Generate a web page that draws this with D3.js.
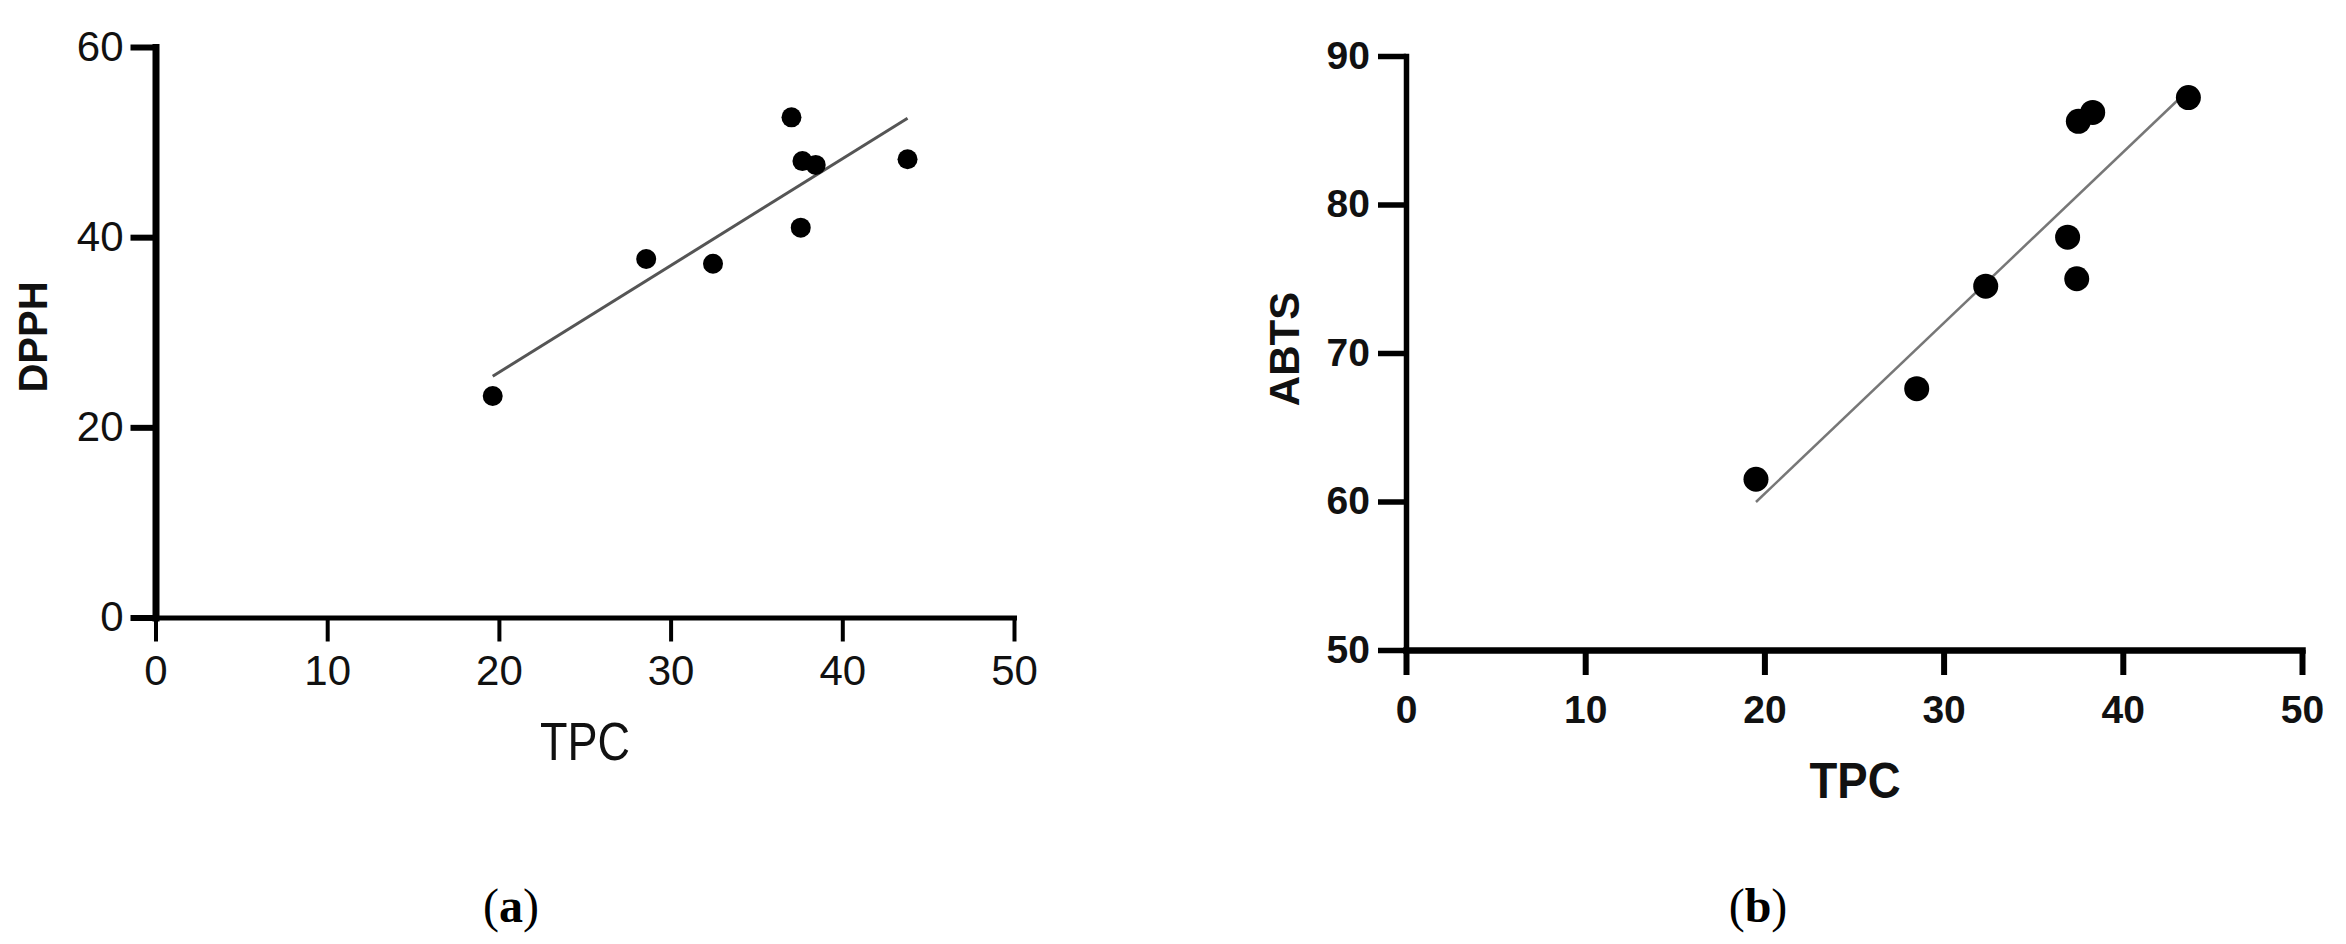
<!DOCTYPE html>
<html>
<head>
<meta charset="utf-8">
<script src="https://cdn.jsdelivr.net/npm/d3@7"></script>
<style>
  html, body { margin: 0; padding: 0; background: #fff; }
  svg { display: block; }
</style>
</head>
<body>
<svg id="chart" width="2346" height="944"></svg>
<script>
// ---- Data ----
const tpcA = [19.64, 28.58, 32.47, 37.04, 37.58, 37.68, 38.45, 43.8];
const dpph = [23.3, 37.7, 37.2, 52.6, 41.0, 48.0, 47.6, 48.2];

const tpcB = [19.53, 28.5, 32.35, 36.92, 37.43, 37.52, 38.32, 43.66];
const abts = [61.5, 67.6, 74.5, 77.8, 75.0, 85.6, 86.2, 87.2];

const xTicks = [0, 10, 20, 30, 40, 50];
const yTicksA = [0, 20, 40, 60];
const yTicksB = [50, 60, 70, 80, 90];

const svg = d3.select("#chart");

function linfit(xs, ys) {
  const mx = d3.mean(xs), my = d3.mean(ys);
  let sxy = 0, sxx = 0;
  xs.forEach((x, i) => { sxy += (x - mx) * (ys[i] - my); sxx += (x - mx) * (x - mx); });
  const b = sxy / sxx;
  return { a: my - b * mx, b };
}

function panel(opt) {
  const g = svg.append("g");
  const x = d3.scaleLinear().domain([0, 50]).range(opt.xr);
  const y = d3.scaleLinear().domain(opt.yd).range(opt.yr);

  // regression line
  const fit = linfit(opt.xs, opt.ys);
  const x0 = d3.min(opt.xs), x1 = d3.max(opt.xs);
  g.append("line")
    .attr("x1", x(x0)).attr("y1", y(fit.a + fit.b * x0))
    .attr("x2", x(x1)).attr("y2", y(fit.a + fit.b * x1))
    .attr("stroke", opt.lineColor).attr("stroke-width", opt.lineW);

  // points
  g.selectAll("circle.pt").data(opt.xs.map((v, i) => [v, opt.ys[i]]))
    .enter().append("circle")
    .attr("cx", d => x(d[0])).attr("cy", d => y(d[1]))
    .attr("r", opt.r).attr("fill", "#000");

  // x axis
  const xa = g.append("g")
    .attr("transform", `translate(0,${opt.yr[0]})`)
    .call(d3.axisBottom(x).tickValues(xTicks).tickSize(opt.xTickLen).tickSizeOuter(0).tickPadding(opt.xPad));
  xa.select(".domain").attr("stroke", "#000").attr("stroke-width", opt.xAxisW).attr("stroke-linecap", "square");
  xa.selectAll(".tick line").attr("stroke", "#000").attr("stroke-width", opt.xTickW);
  xa.selectAll(".tick text")
    .attr("font-family", "Liberation Sans, Arial, sans-serif")
    .attr("font-size", opt.tickFS).attr("font-weight", opt.tickWeight).attr("fill", "#111");

  // y axis
  const ya = g.append("g")
    .attr("transform", `translate(${opt.xr[0]},0)`)
    .call(d3.axisLeft(y).tickValues(opt.yTicks).tickSize(opt.yTickLen).tickSizeOuter(0).tickPadding(opt.yPad));
  ya.select(".domain").attr("stroke", "#000").attr("stroke-width", opt.yAxisW).attr("stroke-linecap", "square");
  ya.selectAll(".tick line").attr("stroke", "#000").attr("stroke-width", opt.yTickW);
  ya.selectAll(".tick text")
    .attr("font-family", "Liberation Sans, Arial, sans-serif")
    .attr("font-size", opt.tickFS).attr("font-weight", opt.tickWeight).attr("fill", "#111");

  // x label
  g.append("text")
    .attr("x", opt.xLab[0]).attr("y", opt.xLab[1])
    .attr("text-anchor", "middle")
    .attr("font-family", "Liberation Sans, Arial, sans-serif")
    .attr("font-size", opt.xLabFS).attr("font-weight", opt.xLabWeight)
    .attr("textLength", opt.xLabLen).attr("lengthAdjust", "spacingAndGlyphs")
    .attr("fill", "#111")
    .text("TPC");

  // y label
  g.append("text")
    .attr("transform", `translate(${opt.yLab[0]},${opt.yLab[1]}) rotate(-90)`)
    .attr("text-anchor", "middle")
    .attr("font-family", "Liberation Sans, Arial, sans-serif")
    .attr("font-size", opt.yLabFS).attr("font-weight", "bold")
    .attr("fill", "#111")
    .text(opt.yName);

  // caption
  const cap = g.append("text")
    .attr("x", opt.cap[0]).attr("y", opt.cap[1])
    .attr("text-anchor", "middle")
    .attr("font-family", "Liberation Serif, Times New Roman, serif")
    .attr("font-size", 48).attr("fill", "#000");
  cap.append("tspan").text("(");
  cap.append("tspan").attr("font-weight", "bold").text(opt.capLetter);
  cap.append("tspan").text(")");
}

panel({
  xs: tpcA, ys: dpph, yd: [0, 60], yTicks: yTicksA,
  xr: [155.5, 1014], yr: [617.5, 47],
  r: 10, lineColor: "#555", lineW: 3,
  xAxisW: 5, yAxisW: 7, xTickW: 4, yTickW: 6,
  xTickLen: 24, yTickLen: 25, xPad: 14, yPad: 7,
  tickFS: 42, tickWeight: "normal",
  xLab: [585, 760], xLabFS: 54, xLabWeight: "normal", xLabLen: 90,
  yLab: [47, 337], yLabFS: 40, yName: "DPPH",
  cap: [511, 922], capLetter: "a"
});

panel({
  xs: tpcB, ys: abts, yd: [50, 90], yTicks: yTicksB,
  xr: [1406, 2302], yr: [650, 56],
  r: 12.5, lineColor: "#777", lineW: 2.5,
  xAxisW: 6.5, yAxisW: 5.5, xTickW: 6, yTickW: 5.5,
  xTickLen: 25, yTickLen: 28, xPad: 20, yPad: 8,
  tickFS: 39, tickWeight: "bold",
  xLab: [1855, 798], xLabFS: 50, xLabWeight: "bold", xLabLen: 91,
  yLab: [1299, 349], yLabFS: 42, yName: "ABTS",
  cap: [1758, 922], capLetter: "b"
});
</script>
</body>
</html>
